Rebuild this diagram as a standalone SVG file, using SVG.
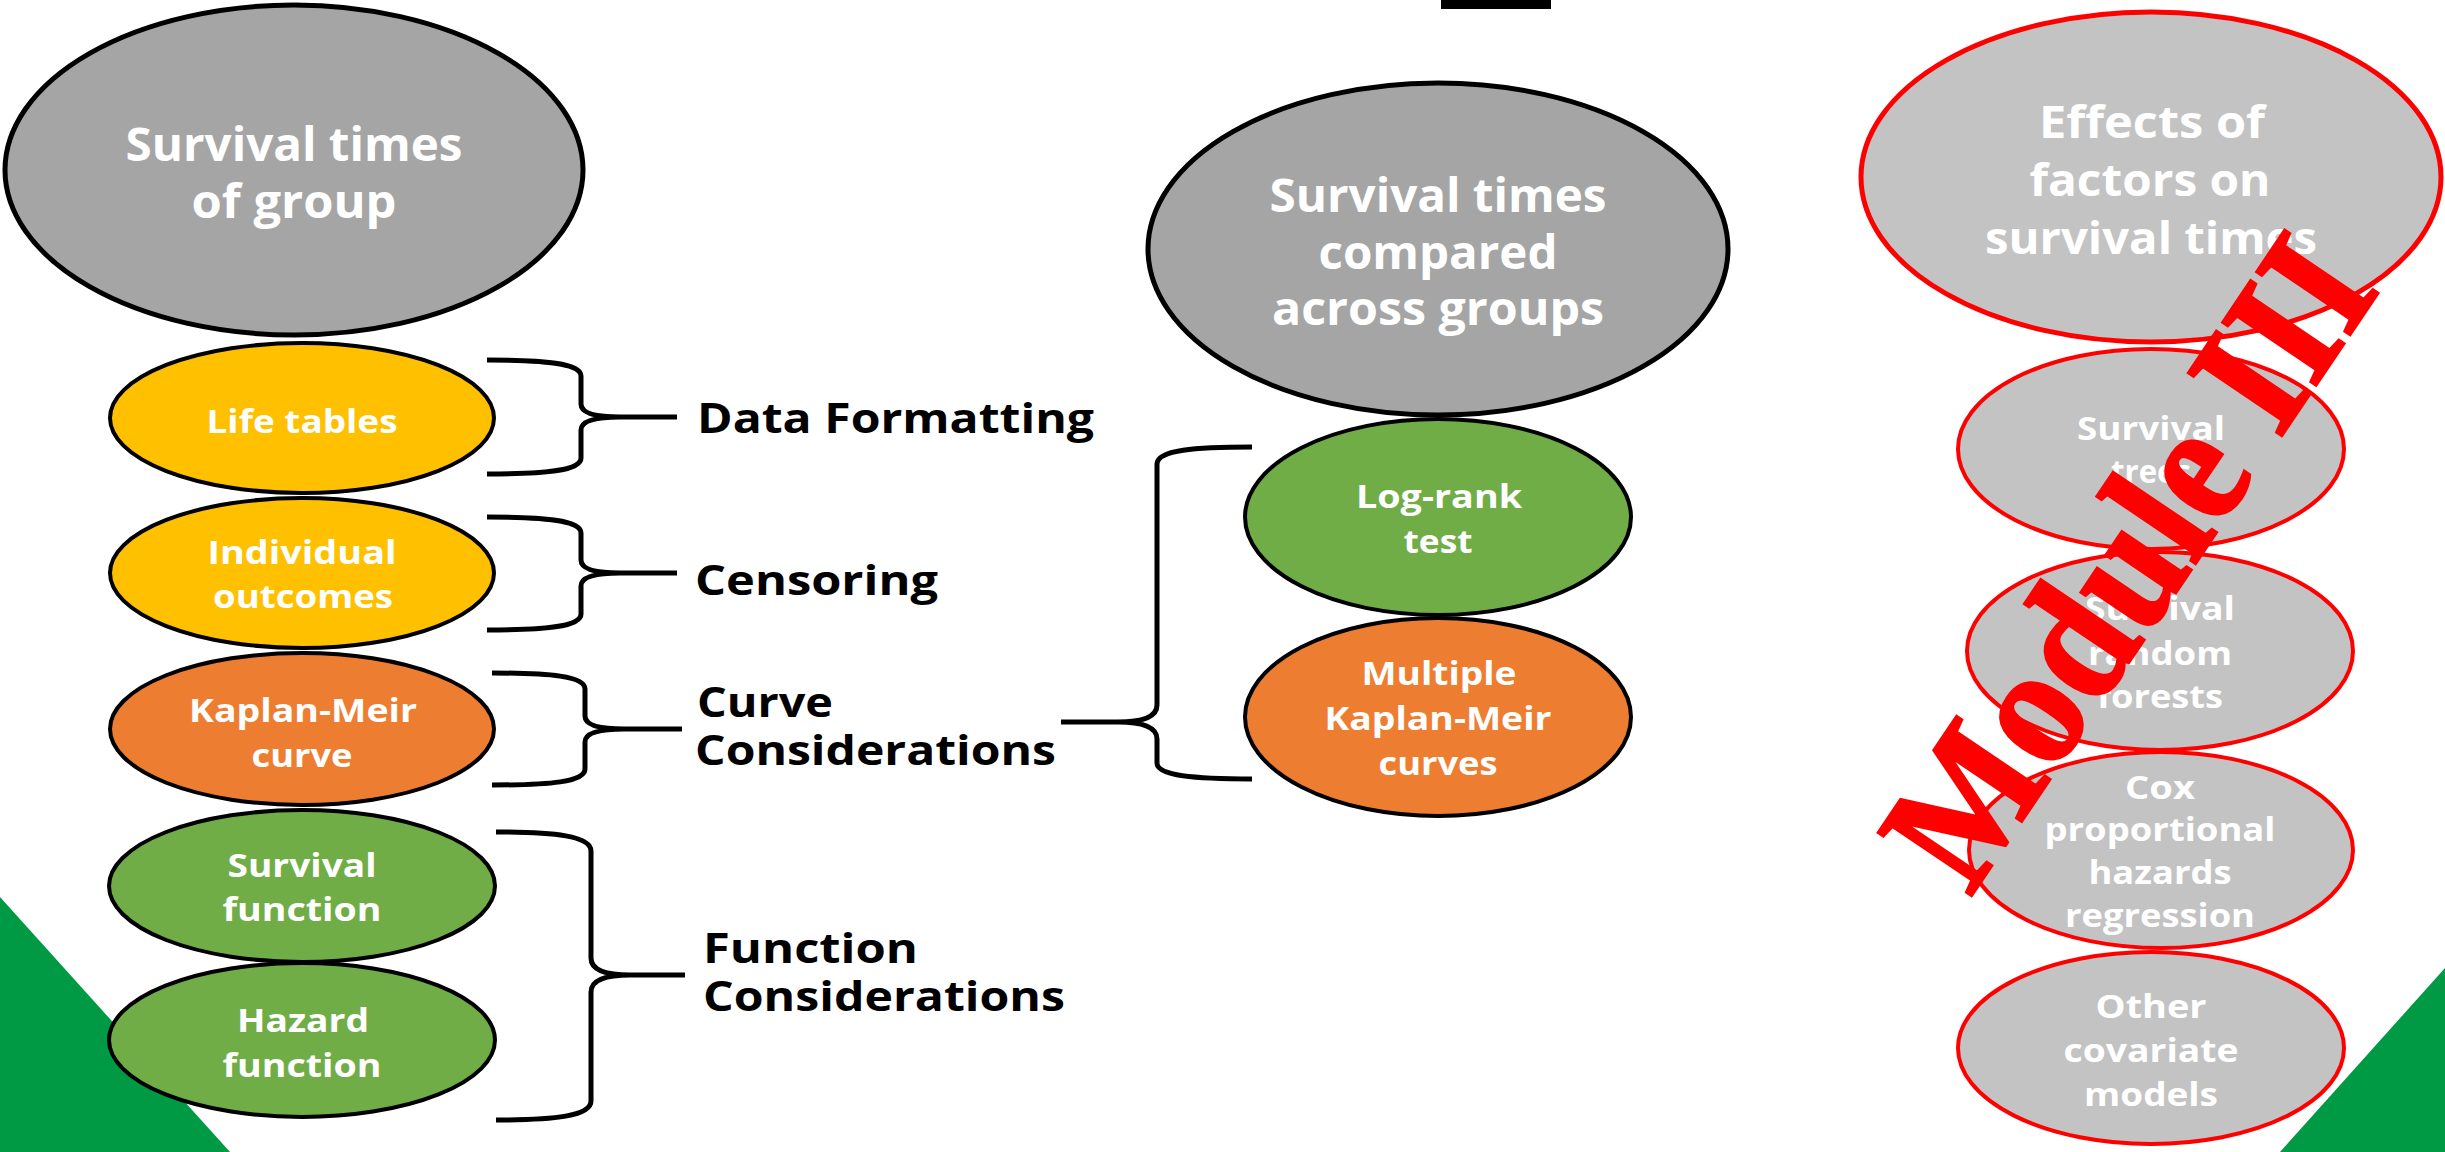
<svg xmlns="http://www.w3.org/2000/svg" width="2445" height="1152" viewBox="0 0 2445 1152">
<style>
.big{font-family:'Open Sans','Liberation Sans',sans-serif;font-weight:700;font-size:46px;fill:#fff;text-anchor:middle}
.bigr{font-family:'Open Sans','Liberation Sans',sans-serif;font-weight:700;font-size:44px;fill:#fff;text-anchor:middle}
.sm{font-family:'Open Sans','Liberation Sans',sans-serif;font-weight:700;font-size:33px;fill:#fff;text-anchor:middle}
.lbl{font-family:'Open Sans','Liberation Sans',sans-serif;font-weight:700;font-size:42px;fill:#000}
.brace{fill:none;stroke:#000;stroke-width:5;stroke-linejoin:round}
.bk{stroke:#000;stroke-width:4}
.bkb{stroke:#000;stroke-width:5}
.rd{stroke:#f00;stroke-width:4;fill:#c3c3c3}
.rdb{stroke:#f00;stroke-width:5;fill:#c3c3c3}
.gray{fill:#a5a5a5}
.yel{fill:#ffc000}
.org{fill:#ed7d31}
.grn{fill:#70ad47}
.stamp{font-family:'Liberation Serif','Times New Roman',serif;font-weight:700;font-size:172px;fill:#f00;stroke:#f00;stroke-width:3}
</style>
<rect width="2445" height="1152" fill="#fff"/>
<g id="decor">
<polygon points="0,897 230,1152 0,1152" fill="#009a44"/>
<polygon points="2445,968 2445,1152 2280,1152" fill="#009a44"/>
<rect x="1441" y="0" width="110" height="9" fill="#000"/>
</g>
<g id="connectors">
<path class="brace" d="M487,360 C545,360 581,363 581,376 L581,404 C581,413 595,417 620,417 L677,417 M620,417 C595,417 581,421 581,430 L581,458 C581,471 545,474 487,474"/>
<path class="brace" d="M487,517 C545,517 581,520 581,533 L581,560 C581,569 595,573 620,573 L677,573 M620,573 C595,573 581,577 581,586 L581,614 C581,627 545,630 487,630"/>
<path class="brace" d="M492,673 C550,673 585,676 585,689 L585,716 C585,725 599,729 624,729 L682,729 M624,729 C599,729 585,733 585,742 L585,769 C585,782 550,785 492,785"/>
<path class="brace" d="M496,832 C555,832 591,836 591,851 L591,958 C591,970 605,975 630,975 L685,975 M630,975 C605,975 591,980 591,992 L591,1101 C591,1116 555,1120 496,1120"/>
<path class="brace" d="M1252,447 C1195,447 1157,450 1157,464 L1157,705 C1157,717 1143,722 1118,722 L1061,722 M1118,722 C1143,722 1157,727 1157,739 L1157,763 C1157,776 1195,779 1252,779"/>
</g>
<g id="group-survival">
<ellipse class="gray bkb" cx="294" cy="170" rx="289" ry="165"/>
<text class="big" x="294" y="161" textLength="337" lengthAdjust="spacingAndGlyphs">Survival times</text>
<text class="big" x="294" y="218" textLength="205" lengthAdjust="spacingAndGlyphs">of group</text>
</g>
<g id="life-tables">
<ellipse class="yel bk" cx="302" cy="418" rx="192" ry="75"/>
<text class="sm" x="302" y="433" textLength="191" lengthAdjust="spacingAndGlyphs">Life tables</text>
</g>
<g id="individual-outcomes">
<ellipse class="yel bk" cx="302" cy="573" rx="192" ry="75"/>
<text class="sm" x="302" y="564" textLength="189" lengthAdjust="spacingAndGlyphs">Individual</text>
<text class="sm" x="303" y="608" textLength="180" lengthAdjust="spacingAndGlyphs">outcomes</text>
</g>
<g id="km-curve">
<ellipse class="org bk" cx="302" cy="729" rx="192" ry="76"/>
<text class="sm" x="303" y="722" textLength="228" lengthAdjust="spacingAndGlyphs">Kaplan-Meir</text>
<text class="sm" x="302" y="767" textLength="101" lengthAdjust="spacingAndGlyphs">curve</text>
</g>
<g id="survival-function">
<ellipse class="grn bk" cx="302" cy="886" rx="193" ry="76"/>
<text class="sm" x="302" y="877" textLength="149" lengthAdjust="spacingAndGlyphs">Survival</text>
<text class="sm" x="302" y="921" textLength="159" lengthAdjust="spacingAndGlyphs">function</text>
</g>
<g id="hazard-function">
<ellipse class="grn bk" cx="302" cy="1040" rx="193" ry="77"/>
<text class="sm" x="303" y="1032" textLength="132" lengthAdjust="spacingAndGlyphs">Hazard</text>
<text class="sm" x="302" y="1077" textLength="159" lengthAdjust="spacingAndGlyphs">function</text>
</g>
<g id="labels">
<text class="lbl" x="697" y="433" textLength="397" lengthAdjust="spacingAndGlyphs">Data Formatting</text>
<text class="lbl" x="695" y="595" textLength="243" lengthAdjust="spacingAndGlyphs">Censoring</text>
<text class="lbl" x="697" y="717" textLength="136" lengthAdjust="spacingAndGlyphs">Curve</text>
<text class="lbl" x="695" y="765" textLength="361" lengthAdjust="spacingAndGlyphs">Considerations</text>
<text class="lbl" x="703" y="963" textLength="215" lengthAdjust="spacingAndGlyphs">Function</text>
<text class="lbl" x="703" y="1011" textLength="362" lengthAdjust="spacingAndGlyphs">Considerations</text>
</g>
<g id="compared-groups">
<ellipse class="gray bkb" cx="1438" cy="249" rx="290" ry="166"/>
<text class="big" x="1438" y="212" textLength="337" lengthAdjust="spacingAndGlyphs">Survival times</text>
<text class="big" x="1438" y="269" textLength="239" lengthAdjust="spacingAndGlyphs">compared</text>
<text class="big" x="1438" y="325" textLength="332" lengthAdjust="spacingAndGlyphs">across groups</text>
</g>
<g id="log-rank">
<ellipse class="grn bk" cx="1438" cy="517" rx="193" ry="98"/>
<text class="sm" x="1439" y="508" textLength="166" lengthAdjust="spacingAndGlyphs">Log-rank</text>
<text class="sm" x="1438" y="553" textLength="69" lengthAdjust="spacingAndGlyphs">test</text>
</g>
<g id="multiple-km">
<ellipse class="org bk" cx="1438" cy="717" rx="193" ry="99"/>
<text class="sm" x="1439" y="685" textLength="155" lengthAdjust="spacingAndGlyphs">Multiple</text>
<text class="sm" x="1438" y="730" textLength="227" lengthAdjust="spacingAndGlyphs">Kaplan-Meir</text>
<text class="sm" x="1438" y="775" textLength="119" lengthAdjust="spacingAndGlyphs">curves</text>
</g>
<g id="effects-factors">
<ellipse class="rdb" cx="2151" cy="177" rx="290" ry="165"/>
<text class="bigr" x="2152" y="138" textLength="226" lengthAdjust="spacingAndGlyphs">Effects of</text>
<text class="bigr" x="2150" y="196" textLength="241" lengthAdjust="spacingAndGlyphs">factors on</text>
<text class="bigr" x="2151" y="254" textLength="332" lengthAdjust="spacingAndGlyphs">survival times</text>
</g>
<g id="survival-trees">
<ellipse class="rd" cx="2151" cy="449" rx="193" ry="100"/>
<text class="sm" x="2151" y="440" textLength="148" lengthAdjust="spacingAndGlyphs">Survival</text>
<text class="sm" x="2151" y="483" textLength="80" lengthAdjust="spacingAndGlyphs">trees</text>
</g>
<g id="random-forests">
<ellipse class="rd" cx="2160" cy="651" rx="193" ry="99"/>
<text class="sm" x="2160" y="620" textLength="150" lengthAdjust="spacingAndGlyphs">Survival</text>
<text class="sm" x="2160" y="665" textLength="144" lengthAdjust="spacingAndGlyphs">random</text>
<text class="sm" x="2160" y="708" textLength="126" lengthAdjust="spacingAndGlyphs">forests</text>
</g>
<g id="cox-regression">
<ellipse class="rd" cx="2161" cy="850" rx="192" ry="98"/>
<text class="sm" x="2160" y="799" textLength="70" lengthAdjust="spacingAndGlyphs">Cox</text>
<text class="sm" x="2160" y="841" textLength="231" lengthAdjust="spacingAndGlyphs">proportional</text>
<text class="sm" x="2160" y="884" textLength="143" lengthAdjust="spacingAndGlyphs">hazards</text>
<text class="sm" x="2160" y="927" textLength="190" lengthAdjust="spacingAndGlyphs">regression</text>
</g>
<g id="other-models">
<ellipse class="rd" cx="2151" cy="1048" rx="193" ry="96"/>
<text class="sm" x="2151" y="1018" textLength="111" lengthAdjust="spacingAndGlyphs">Other</text>
<text class="sm" x="2151" y="1062" textLength="175" lengthAdjust="spacingAndGlyphs">covariate</text>
<text class="sm" x="2151" y="1106" textLength="134" lengthAdjust="spacingAndGlyphs">models</text>
</g>
<g id="module-stamp">
<text class="stamp" transform="translate(1970,898) rotate(-56)" x="0" y="0" textLength="735" lengthAdjust="spacingAndGlyphs">Module III</text>
</g>
</svg>
